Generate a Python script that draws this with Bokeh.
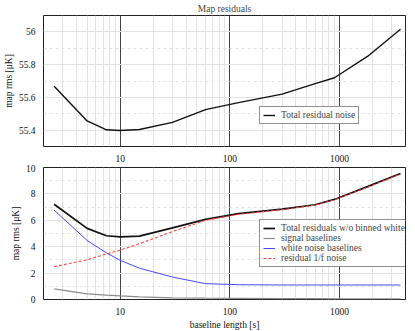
from bokeh.plotting import figure
from bokeh.models import Range1d, FixedTicker, CustomJSTickFormatter, Legend, LegendItem
from bokeh.layouts import column
from bokeh.embed import file_html
from bokeh.resources import INLINE

# ---- data ----
baseline = [2.5, 5, 7.5, 10, 15, 30, 60, 120, 300, 600, 900, 1800, 3600]
total_residual = [55.668, 55.456, 55.402, 55.398, 55.404, 55.447, 55.525, 55.568,
                  55.62, 55.684, 55.72, 55.85, 56.016]
total_wo_white = [7.22, 5.39, 4.83, 4.74, 4.80, 5.43, 6.07, 6.5, 6.84, 7.18, 7.58, 8.55, 9.54]
signal_base = [0.80, 0.43, 0.33, 0.27, 0.20, 0.13, 0.10, 0.08, 0.06, 0.06, 0.05, 0.05, 0.05]
white_base = [6.77, 4.47, 3.53, 2.97, 2.37, 1.70, 1.20, 1.12, 1.10, 1.10, 1.10, 1.10, 1.10]
resid_1f = [2.49, 3.01, 3.45, 3.74, 4.23, 5.15, 6.0, 6.45, 6.8, 7.15, 7.55, 8.5, 9.5]

x_major = [10, 100, 1000]
x_minor = [2, 3, 4, 5, 6, 7, 8, 9, 20, 30, 40, 50, 60, 70, 80, 90,
           200, 300, 400, 500, 600, 700, 800, 900, 2000, 3000, 4000]
y_top_major = [55.4, 55.6, 55.8, 56.0]
y_top_minor = [55.5, 55.7, 55.9]
y_bot_major = [0, 2, 4, 6, 8, 10]
y_bot_minor = [1, 3, 5, 7, 9]

FONT = "Liberation Serif"
FS = "9.5px"


def style(p, ymaj, ymin):
    p.xaxis.ticker = FixedTicker(ticks=x_major, minor_ticks=x_minor)
    p.yaxis.ticker = FixedTicker(ticks=ymaj, minor_ticks=ymin)
    p.xaxis.formatter = CustomJSTickFormatter(code="return String(tick)")
    p.yaxis.formatter = CustomJSTickFormatter(code="return String(Number(tick.toFixed(1)))")
    for ax in (p.xaxis[0], p.yaxis[0]):
        ax.major_tick_line_color = None
        ax.minor_tick_line_color = None
        ax.axis_line_color = None
        ax.major_label_text_font = FONT
        ax.major_label_text_font_size = FS
        ax.major_label_text_color = "#111111"
        ax.major_label_standoff = 2
        ax.axis_label_text_font = FONT
        ax.axis_label_text_font_size = FS
        ax.axis_label_text_font_style = "normal"
        ax.axis_label_text_color = "#111111"
        ax.axis_label_standoff = 2
    p.xgrid.grid_line_color = "#444444"
    p.xgrid.grid_line_width = 1
    p.xgrid.minor_grid_line_color = "#e2e2e2"
    p.ygrid.grid_line_color = "#e2e2e2"
    p.ygrid.minor_grid_line_color = "#e2e2e2"
    p.ygrid.minor_grid_line_dash = "3 3"
    p.outline_line_color = "#222222"
    p.outline_line_width = 1
    p.background_fill_color = "white"
    p.border_fill_color = "white"


def legend_style(lg):
    lg.label_text_font = FONT
    lg.label_text_font_size = FS
    lg.border_line_color = "#222222"
    lg.border_line_width = 1
    lg.background_fill_alpha = 1
    lg.padding = 3
    lg.spacing = 0
    lg.margin = 0
    lg.glyph_width = 12
    lg.glyph_height = 10
    lg.label_height = 10
    lg.label_standoff = 6


p1 = figure(width=407, height=164, x_axis_type="log",
            x_range=Range1d(2, 4000), y_range=Range1d(55.3, 56.1),
            output_backend="svg", toolbar_location=None, title="Map residuals",
            min_border_left=33, min_border_right=2, min_border_top=0, min_border_bottom=0)
p1.title.text_font = FONT
p1.title.text_font_size = FS
p1.title.text_font_style = "normal"
p1.title.align = "center"
p1.title.standoff = 3
style(p1, y_top_major, y_top_minor)
p1.yaxis.axis_label = "map rms [μK]"
r_top = p1.line(baseline, total_residual, line_color="#111111", line_width=1.4)
lg1 = Legend(items=[LegendItem(label="Total residual noise", renderers=[r_top])],
             location=(216, 22))
legend_style(lg1)
p1.add_layout(lg1)

p2 = figure(width=407, height=168, x_axis_type="log",
            x_range=Range1d(2, 4000), y_range=Range1d(0, 10),
            output_backend="svg", toolbar_location=None,
            min_border_left=33, min_border_right=2, min_border_top=3, min_border_bottom=0)
style(p2, y_bot_major, y_bot_minor)
p2.yaxis.axis_label = "map rms [μK]"
p2.xaxis.axis_label = "baseline length [s]"
r_tot = p2.line(baseline, total_wo_white, line_color="#111111", line_width=1.7)
r_sig = p2.line(baseline, signal_base, line_color="#8c8c8c", line_width=1.2)
r_wht = p2.line(baseline, white_base, line_color="#4848ff", line_width=1.0)
r_1f = p2.line(baseline, resid_1f, line_color="#ff4444", line_width=1.1, line_dash="3 2")
lg2 = Legend(items=[
    LegendItem(label="Total residuals w/o binned white", renderers=[r_tot]),
    LegendItem(label="signal baselines", renderers=[r_sig]),
    LegendItem(label="white noise baselines", renderers=[r_wht]),
    LegendItem(label="residual 1/f noise", renderers=[r_1f]),
], location=(216, 32))
legend_style(lg2)
p2.add_layout(lg2)

layout = column(p1, p2, spacing=0)
open("out.html", "w").write(file_html(layout, INLINE))
